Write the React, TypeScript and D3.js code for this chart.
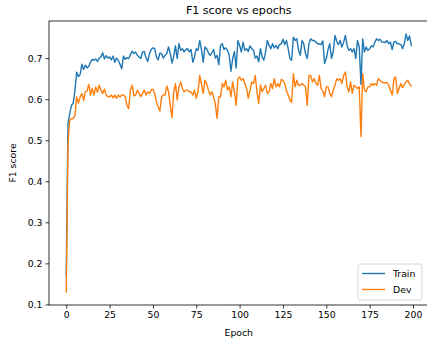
import * as d3 from 'd3'
import { useEffect, useRef } from 'react'

// F1 per epoch
const trainF1 = [
    0.17, 0.54, 0.565, 0.585, 0.59, 0.62, 0.666, 0.655, 0.66, 0.685,
    0.672, 0.683, 0.676, 0.68, 0.69, 0.697, 0.695, 0.698, 0.692, 0.7,
    0.703, 0.713, 0.698, 0.706, 0.7, 0.703, 0.696, 0.705, 0.69, 0.7,
    0.695, 0.685, 0.674, 0.705, 0.697, 0.701, 0.699, 0.708, 0.717, 0.711,
    0.715, 0.707, 0.703, 0.699, 0.715, 0.716, 0.701, 0.692, 0.711, 0.721,
    0.725, 0.723, 0.703, 0.696, 0.712, 0.711, 0.7, 0.707, 0.711, 0.727,
    0.711, 0.688, 0.705, 0.73, 0.699, 0.735, 0.719, 0.723, 0.715, 0.721,
    0.723, 0.715, 0.721, 0.69, 0.703, 0.723, 0.719, 0.743, 0.721, 0.69,
    0.727, 0.723, 0.713, 0.707, 0.713, 0.721, 0.7, 0.707, 0.684, 0.731,
    0.735, 0.721, 0.725, 0.719, 0.707, 0.668, 0.699, 0.716, 0.676, 0.743,
    0.731, 0.715, 0.739, 0.719, 0.723, 0.716, 0.73, 0.723, 0.719, 0.7,
    0.705, 0.691, 0.723, 0.703, 0.695, 0.716, 0.743, 0.731, 0.723, 0.735,
    0.725, 0.731, 0.723, 0.733, 0.735, 0.746, 0.733, 0.743, 0.723, 0.699,
    0.695, 0.751, 0.743, 0.747, 0.719, 0.707, 0.743, 0.735, 0.711, 0.699,
    0.735, 0.747, 0.743, 0.743, 0.739, 0.735, 0.735, 0.733, 0.742, 0.687,
    0.699, 0.721, 0.735, 0.699, 0.716, 0.755, 0.741, 0.733, 0.743, 0.727,
    0.739, 0.755, 0.731, 0.719, 0.723, 0.715, 0.723, 0.699, 0.743, 0.727,
    0.636, 0.747, 0.715, 0.727, 0.719, 0.723, 0.73, 0.727, 0.739, 0.747,
    0.743, 0.746, 0.739, 0.739, 0.738, 0.743, 0.735, 0.739, 0.721, 0.739,
    0.741, 0.735, 0.735, 0.733, 0.723, 0.735, 0.759, 0.743, 0.754, 0.731,
]

const devF1 = [
    0.13, 0.49, 0.549, 0.552, 0.553, 0.56, 0.606, 0.59, 0.605, 0.614,
    0.597, 0.618, 0.62, 0.636, 0.61, 0.627, 0.61, 0.63, 0.617, 0.634,
    0.622, 0.614, 0.625, 0.61, 0.606, 0.606, 0.61, 0.603, 0.61, 0.602,
    0.61, 0.605, 0.61, 0.61, 0.606, 0.585, 0.577, 0.622, 0.634, 0.608,
    0.61, 0.622, 0.614, 0.606, 0.614, 0.622, 0.61, 0.618, 0.614, 0.623,
    0.624, 0.614, 0.595, 0.581, 0.571, 0.606, 0.611, 0.61, 0.632, 0.618,
    0.585, 0.555, 0.618, 0.638, 0.598, 0.63, 0.642, 0.626, 0.618, 0.622,
    0.622, 0.618, 0.618, 0.61, 0.622, 0.602, 0.618, 0.658, 0.636, 0.614,
    0.646, 0.638, 0.622, 0.61, 0.618, 0.606, 0.588, 0.553, 0.606, 0.606,
    0.638, 0.63, 0.646, 0.622, 0.63, 0.606, 0.642, 0.618, 0.585, 0.65,
    0.654, 0.646, 0.65, 0.638, 0.626, 0.602, 0.622, 0.642, 0.638, 0.658,
    0.618, 0.59, 0.634, 0.618, 0.626, 0.634, 0.614, 0.618, 0.638, 0.626,
    0.65, 0.63, 0.638, 0.63, 0.648, 0.646, 0.638, 0.622, 0.61, 0.598,
    0.592, 0.662, 0.63, 0.646, 0.634, 0.634, 0.638, 0.634, 0.63, 0.585,
    0.658, 0.658, 0.642, 0.65, 0.638, 0.634, 0.658, 0.626, 0.619, 0.606,
    0.63, 0.63, 0.614, 0.606, 0.622, 0.634, 0.65, 0.646, 0.65, 0.638,
    0.658, 0.666, 0.63, 0.618, 0.642, 0.614, 0.634, 0.63, 0.626, 0.63,
    0.509, 0.662, 0.622, 0.618, 0.63, 0.63, 0.638, 0.634, 0.638, 0.634,
    0.65, 0.646, 0.642, 0.64, 0.64, 0.64, 0.634, 0.622, 0.61, 0.65,
    0.654, 0.614, 0.626, 0.638, 0.628, 0.636, 0.642, 0.646, 0.638, 0.632,
]

const seriesNames = ['Train', 'Dev']
const seriesColors = ['#1f77b4', '#ff7f0e']
const xTicks = [0, 25, 50, 75, 100, 125, 150, 175, 200]
const yTicks = [0.1, 0.2, 0.3, 0.4, 0.5, 0.6, 0.7]

const width = 427
const height = 343
const font = '"DejaVu Sans", sans-serif'

export default function App() {
    const svgRef = useRef<SVGSVGElement>(null)

    useEffect(() => {
        if (!svgRef.current) return
        const svg = d3.select(svgRef.current)
        svg.selectAll('*').remove()

        const margin = { top: 21, right: -1.5, bottom: 38, left: 49 }
        const innerWidth = width - margin.left - margin.right
        const innerHeight = height - margin.top - margin.bottom

        const series = [trainF1, devF1]
        const n = trainF1.length

        // matplotlib-like 5% margins
        const xPad = (n - 1) * 0.05
        const x = d3
            .scaleLinear()
            .domain([-xPad, n - 1 + xPad])
            .range([0, innerWidth])

        const all = [...trainF1, ...devF1]
        const lo = d3.min(all) as number
        const hi = d3.max(all) as number
        const yPad = (hi - lo) * 0.05
        const y = d3
            .scaleLinear()
            .domain([lo - yPad, hi + yPad])
            .range([innerHeight, 0])

        svg.append('rect')
            .attr('width', width)
            .attr('height', height)
            .attr('fill', '#fff')

        const g = svg
            .append('g')
            .attr('transform', `translate(${margin.left},${margin.top})`)

        // lines
        const line = d3
            .line<number>()
            .x((_, i) => x(i))
            .y((d) => y(d))

        series.forEach((s, i) => {
            g.append('path')
                .datum(s)
                .attr('fill', 'none')
                .attr('stroke', seriesColors[i])
                .attr('stroke-width', 1.4)
                .attr('stroke-linejoin', 'round')
                .attr('stroke-linecap', 'square')
                .attr('d', line)
        })

        // spines
        g.append('rect')
            .attr('width', innerWidth)
            .attr('height', innerHeight)
            .attr('fill', 'none')
            .attr('stroke', '#000')
            .attr('stroke-width', 0.8)

        // axes
        const xAxis = g
            .append('g')
            .attr('transform', `translate(0,${innerHeight})`)
            .call(
                d3
                    .axisBottom(x)
                    .tickValues(xTicks)
                    .tickSize(3.5)
                    .tickPadding(3)
                    .tickFormat(d3.format('d'))
            )
        xAxis.select('.domain').remove()

        const yAxis = g.append('g').call(
            d3
                .axisLeft(y)
                .tickValues(yTicks)
                .tickSize(3.5)
                .tickPadding(3)
                .tickFormat(d3.format('.1f'))
        )
        yAxis.select('.domain').remove()

        svg.selectAll('.tick line').attr('stroke', '#000').attr('stroke-width', 0.8)
        svg.selectAll('.tick text')
            .attr('fill', '#000')
            .style('font-family', font)
            .style('font-size', '9.3px')

        // labels
        svg.append('text')
            .attr('x', margin.left + innerWidth / 2)
            .attr('y', 14)
            .attr('text-anchor', 'middle')
            .style('font-family', font)
            .style('font-size', '11.1px')
            .text('F1 score vs epochs')

        svg.append('text')
            .attr('x', margin.left + innerWidth / 2)
            .attr('y', 336)
            .attr('text-anchor', 'middle')
            .style('font-family', font)
            .style('font-size', '9.3px')
            .text('Epoch')

        svg.append('text')
            .attr('transform', `translate(16,${margin.top + innerHeight / 2}) rotate(-90)`)
            .attr('text-anchor', 'middle')
            .style('font-family', font)
            .style('font-size', '9.3px')
            .text('F1 score')

        // legend
        const legend = svg.append('g').attr('transform', 'translate(358,264)')
        legend
            .append('rect')
            .attr('width', 64)
            .attr('height', 36)
            .attr('rx', 2)
            .attr('fill', '#fff')
            .attr('fill-opacity', 0.8)
            .attr('stroke', '#ccc')
            .attr('stroke-width', 0.8)

        seriesNames.forEach((name, i) => {
            const ly = 9.5 + i * 16
            legend
                .append('line')
                .attr('x1', 4)
                .attr('x2', 27)
                .attr('y1', ly)
                .attr('y2', ly)
                .attr('stroke', seriesColors[i])
                .attr('stroke-width', 1.4)
            legend
                .append('text')
                .attr('x', 35)
                .attr('y', ly)
                .attr('dy', '.35em')
                .style('font-family', font)
                .style('font-size', '9.3px')
                .text(name)
        })
    }, [])

    return (
        <svg
            ref={svgRef}
            width={width}
            height={height}
            style={{ position: 'absolute', left: 0, top: 0 }}
        />
    )
}
